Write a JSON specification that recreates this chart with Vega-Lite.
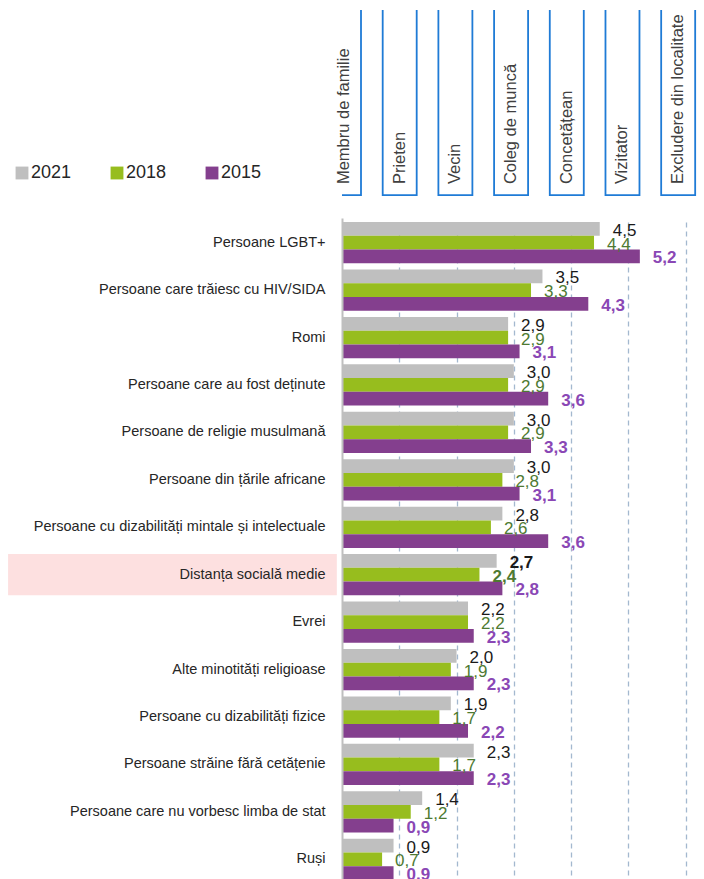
{
  "$schema": "https://vega.github.io/schema/vega-lite/v6.json",
  "padding": {"left": 8, "top": 10, "right": 0, "bottom": 0},
  "background": "white",
  "spacing": 0,
  "bounds": "flush",
  "config": {
    "locale": {"number": {"decimal": ",", "thousands": ".", "grouping": [3], "currency": ["", " lei"]}},
    "font": "Liberation Sans",
    "view": {"stroke": null}
  },
  "datasets": {
    "vals": [
      {"cat": "Persoane LGBT+", "year": "2021", "v": 4.5},
      {"cat": "Persoane LGBT+", "year": "2018", "v": 4.4},
      {"cat": "Persoane LGBT+", "year": "2015", "v": 5.2},
      {"cat": "Persoane care trăiesc cu HIV/SIDA", "year": "2021", "v": 3.5},
      {"cat": "Persoane care trăiesc cu HIV/SIDA", "year": "2018", "v": 3.3},
      {"cat": "Persoane care trăiesc cu HIV/SIDA", "year": "2015", "v": 4.3},
      {"cat": "Romi", "year": "2021", "v": 2.9},
      {"cat": "Romi", "year": "2018", "v": 2.9},
      {"cat": "Romi", "year": "2015", "v": 3.1},
      {"cat": "Persoane care au fost deținute", "year": "2021", "v": 3.0},
      {"cat": "Persoane care au fost deținute", "year": "2018", "v": 2.9},
      {"cat": "Persoane care au fost deținute", "year": "2015", "v": 3.6},
      {"cat": "Persoane de religie musulmană", "year": "2021", "v": 3.0},
      {"cat": "Persoane de religie musulmană", "year": "2018", "v": 2.9},
      {"cat": "Persoane de religie musulmană", "year": "2015", "v": 3.3},
      {"cat": "Persoane din țările africane", "year": "2021", "v": 3.0},
      {"cat": "Persoane din țările africane", "year": "2018", "v": 2.8},
      {"cat": "Persoane din țările africane", "year": "2015", "v": 3.1},
      {"cat": "Persoane cu dizabilități mintale și intelectuale", "year": "2021", "v": 2.8},
      {"cat": "Persoane cu dizabilități mintale și intelectuale", "year": "2018", "v": 2.6},
      {"cat": "Persoane cu dizabilități mintale și intelectuale", "year": "2015", "v": 3.6},
      {"cat": "Distanța socială medie", "year": "2021", "v": 2.7},
      {"cat": "Distanța socială medie", "year": "2018", "v": 2.4},
      {"cat": "Distanța socială medie", "year": "2015", "v": 2.8},
      {"cat": "Evrei", "year": "2021", "v": 2.2},
      {"cat": "Evrei", "year": "2018", "v": 2.2},
      {"cat": "Evrei", "year": "2015", "v": 2.3},
      {"cat": "Alte minotități religioase", "year": "2021", "v": 2.0},
      {"cat": "Alte minotități religioase", "year": "2018", "v": 1.9},
      {"cat": "Alte minotități religioase", "year": "2015", "v": 2.3},
      {"cat": "Persoane cu dizabilități fizice", "year": "2021", "v": 1.9},
      {"cat": "Persoane cu dizabilități fizice", "year": "2018", "v": 1.7},
      {"cat": "Persoane cu dizabilități fizice", "year": "2015", "v": 2.2},
      {"cat": "Persoane străine fără cetățenie", "year": "2021", "v": 2.3},
      {"cat": "Persoane străine fără cetățenie", "year": "2018", "v": 1.7},
      {"cat": "Persoane străine fără cetățenie", "year": "2015", "v": 2.3},
      {"cat": "Persoane care nu vorbesc limba de stat", "year": "2021", "v": 1.4},
      {"cat": "Persoane care nu vorbesc limba de stat", "year": "2018", "v": 1.2},
      {"cat": "Persoane care nu vorbesc limba de stat", "year": "2015", "v": 0.9},
      {"cat": "Ruși", "year": "2021", "v": 0.9},
      {"cat": "Ruși", "year": "2018", "v": 0.7},
      {"cat": "Ruși", "year": "2015", "v": 0.9}
    ],
    "levels": [
      {"level": 0, "label": "Membru de familie"},
      {"level": 1, "label": "Prieten"},
      {"level": 2, "label": "Vecin"},
      {"level": 3, "label": "Coleg de muncă"},
      {"level": 4, "label": "Concetățean"},
      {"level": 5, "label": "Vizitator"},
      {"level": 6, "label": "Excludere din localitate"}
    ]
  },
  "vconcat": [
    {
      "width": 362,
      "height": 208,
      "data": {"name": "levels"},
      "layer": [
        {
          "mark": {"type": "bar", "width": 34, "xOffset": -3, "fill": "white", "stroke": "#1f7bd6", "strokeWidth": 1.8, "clip": true},
          "encoding": {
            "x": {"field": "level", "type": "quantitative", "scale": {"domain": [0, 6.32], "nice": false, "zero": false}, "axis": null},
            "y": {"datum": 120, "type": "quantitative", "scale": {"domain": [0, 100], "nice": false}, "axis": null},
            "y2": {"datum": 11}
          }
        },
        {
          "mark": {"type": "text", "angle": 270, "align": "left", "baseline": "middle", "xOffset": -3, "fontSize": 16.5, "color": "#404040", "font": "Liberation Sans"},
          "encoding": {
            "x": {"field": "level", "type": "quantitative"},
            "y": {"datum": 16.3, "type": "quantitative"},
            "text": {"field": "label"}
          }
        }
      ]
    },
    {
      "width": 362,
      "height": 666,
      "data": {"name": "vals"},
      "encoding": {
        "y": {
          "field": "cat",
          "type": "nominal",
          "sort": ["Persoane LGBT+", "Persoane care trăiesc cu HIV/SIDA", "Romi", "Persoane care au fost deținute", "Persoane de religie musulmană", "Persoane din țările africane", "Persoane cu dizabilități mintale și intelectuale", "Distanța socială medie", "Evrei", "Alte minotități religioase", "Persoane cu dizabilități fizice", "Persoane străine fără cetățenie", "Persoane care nu vorbesc limba de stat", "Ruși"],
          "scale": {"paddingInner": 0.13, "paddingOuter": 0.085},
          "axis": {"title": null, "ticks": false, "labelPadding": 17, "labelFontSize": 14.5, "labelColor": "#262626", "labelLimit": 400, "labelFont": "Liberation Sans", "domainColor": "#bfbfbf", "domainWidth": 2, "zindex": 1}
        }
      },
      "layer": [
        {
          "transform": [{"filter": "datum.cat === 'Distanța socială medie' && datum.year === '2021'"}],
          "mark": {"type": "rect", "color": "#fde0e0"},
          "encoding": {
            "x": {"datum": -5.83, "type": "quantitative"},
            "x2": {"datum": -0.09}
          }
        },
        {
          "mark": {"type": "bar"},
          "encoding": {
            "x": {
              "field": "v",
              "type": "quantitative",
              "scale": {"domain": [0, 6.32], "nice": false},
              "axis": {"title": null, "labels": false, "ticks": false, "domain": false, "grid": true, "values": [1, 2, 3, 4, 5, 6], "gridDash": [5, 4], "gridColor": "#a3b8cf", "gridWidth": 1.3}
            },
            "yOffset": {"field": "year", "type": "nominal", "sort": ["2021", "2018", "2015"], "scale": {"paddingInner": 0, "paddingOuter": 0}},
            "color": {
              "field": "year",
              "type": "nominal",
              "sort": ["2021", "2018", "2015"],
              "scale": {"domain": ["2021", "2018", "2015"], "range": ["#bfbfbf", "#97bd1e", "#843f8e"]},
              "legend": {"orient": "none", "legendX": -329, "legendY": 154, "direction": "horizontal", "title": null, "symbolType": "square", "symbolSize": 165, "symbolStrokeWidth": 0, "labelFontSize": 18, "labelColor": "#262626", "labelFont": "Liberation Sans", "columnPadding": 36, "labelOffset": 0}
            }
          }
        },
        {
          "transform": [{"filter": "datum.year !== '2015' && datum.cat !== 'Distanța socială medie'"}],
          "mark": {"type": "text", "align": "left", "baseline": "middle", "dx": 13, "dy": 2, "fontSize": 17, "font": "Liberation Sans"},
          "encoding": {
            "x": {"field": "v", "type": "quantitative"},
            "yOffset": {"field": "year", "type": "nominal", "sort": ["2021", "2018", "2015"]},
            "text": {"field": "v", "type": "quantitative", "format": ".1f"},
            "color": {"condition": [{"test": "datum.year === '2018'", "value": "#4e7a32"}, {"test": "datum.year === '2015'", "value": "#8a47b5"}], "value": "#1a1a1a"}
          }
        },
        {
          "transform": [{"filter": "datum.year === '2015' || datum.cat === 'Distanța socială medie'"}],
          "mark": {"type": "text", "align": "left", "baseline": "middle", "dx": 13, "dy": 2, "fontSize": 17, "fontWeight": "bold", "font": "Liberation Sans"},
          "encoding": {
            "x": {"field": "v", "type": "quantitative"},
            "yOffset": {"field": "year", "type": "nominal", "sort": ["2021", "2018", "2015"]},
            "text": {"field": "v", "type": "quantitative", "format": ".1f"},
            "color": {"condition": [{"test": "datum.year === '2018'", "value": "#4e7a32"}, {"test": "datum.year === '2015'", "value": "#8a47b5"}], "value": "#1a1a1a"}
          }
        }
      ]
    }
  ]
}
